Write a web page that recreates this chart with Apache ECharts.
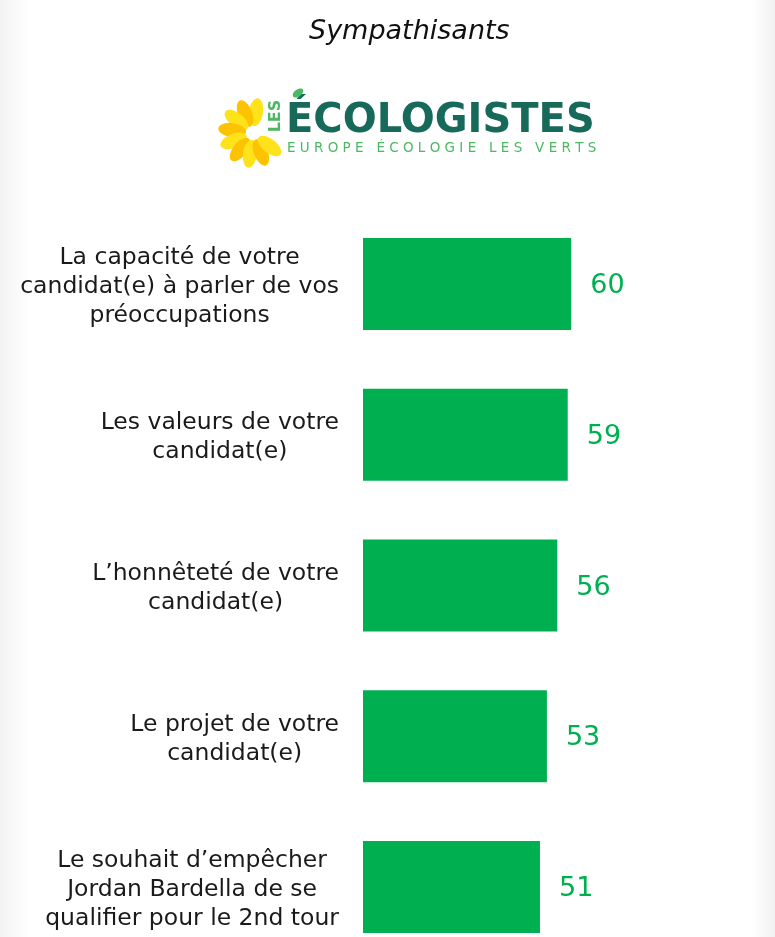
<!DOCTYPE html>
<html>
<head>
<meta charset="utf-8">
<script src="https://cdn.jsdelivr.net/npm/echarts@6/dist/echarts.min.js"></script>
<style>
  html, body { margin: 0; padding: 0; background: #fff; }
  #chart { width: 775px; height: 937px; }
</style>
</head>
<body>
<div id="chart"></div>
<script>
const title = "Sympathisants";
const categories = [
    "La capacité de votre\ncandidat(e) à parler de vos\npréoccupations",
    "Les valeurs de votre\ncandidat(e)",
    "L’honnêteté de votre\ncandidat(e)",
    "Le projet de votre\ncandidat(e)",
    "Le souhait d’empêcher\nJordan Bardella de se\nqualifier pour le 2nd tour"
];
const values = [60, 59, 56, 53, 51];

const GREEN = "#00b050";
const FONT = "'DejaVu Sans', sans-serif";

// sunflower petals for the logo (decoration, not data)
function sunflower(cx, cy) {
    const petals = [];
    const angles = [82, 112, 142, 172, 202, 232, 262, 292, 322];
    angles.forEach((a, i) => {
        petals.push({
            type: "ellipse",
            x: cx,
            y: cy,
            rotation: a * Math.PI / 180,
            shape: { cx: 21, cy: 0, rx: 14, ry: 7 },
            style: { fill: i % 2 ? "#fdc300" : "#ffe31a" }
        });
    });
    return petals;
}

const chart = echarts.init(document.getElementById("chart"), null, { renderer: "canvas" });

chart.setOption({
    animation: false,
    backgroundColor: "#ffffff",
    title: {
        text: title,
        left: 304,
        top: 13,
        textStyle: {
            fontFamily: FONT,
            fontStyle: "italic",
            fontWeight: "normal",
            fontSize: 27,
            color: "#111"
        }
    },
    graphic: [
        {
            type: "rect",
            left: 0, top: 0,
            shape: { width: 30, height: 937 },
            style: {
                fill: new echarts.graphic.LinearGradient(0, 0, 1, 0, [
                    { offset: 0, color: "#f3f3f3" },
                    { offset: 1, color: "#ffffff" }
                ])
            },
            z: -1
        },
        {
            type: "rect",
            left: 752, top: 0,
            shape: { width: 23, height: 937 },
            style: {
                fill: new echarts.graphic.LinearGradient(0, 0, 1, 0, [
                    { offset: 0, color: "#ffffff" },
                    { offset: 1, color: "#f1f1f1" }
                ])
            },
            z: -1
        },
        ...sunflower(253, 133),
        {
            type: "text",
            x: 276, y: 116,
            rotation: Math.PI / 2,
            style: {
                text: "LES",
                font: "bold 16px " + FONT,
                fill: "#4cb864",
                align: "center",
                verticalAlign: "middle"
            }
        },
        {
            type: "text",
            x: 286, y: 122,
            style: {
                text: "ÉCOLOGISTES",
                font: "bold 40px " + FONT,
                fill: "#17695a",
                verticalAlign: "middle"
            }
        },
        {
            type: "ellipse",
            x: 298, y: 93,
            rotation: 0.6,
            shape: { cx: 0, cy: 0, rx: 6, ry: 3.5 },
            style: { fill: "#4cb864" }
        },
        {
            type: "text",
            x: 287, y: 148,
            style: {
                text: "E U R O P E   É C O L O G I E   L E S   V E R T S",
                font: "13.5px " + FONT,
                fill: "#4cb864",
                verticalAlign: "middle"
            }
        }
    ],
    grid: {
        left: 363,
        top: 284,
        width: 347,
        height: 603,
        containLabel: false
    },
    xAxis: {
        type: "value",
        min: 0,
        max: 100,
        show: false
    },
    yAxis: {
        type: "category",
        inverse: true,
        boundaryGap: false,
        data: categories,
        axisLine: { show: false },
        axisTick: { show: false },
        axisLabel: {
            margin: 24,
            align: "right",
            padding: [6, 0, 0, 0],
            formatter: value => value.split("\n").map(l => "{c|" + l + "}").join("\n"),
            rich: {
                c: {
                    align: "center",
                    fontFamily: FONT,
                    fontSize: 23.5,
                    lineHeight: 29,
                    color: "#1a1a1a"
                }
            }
        }
    },
    series: [
        {
            type: "bar",
            data: values,
            barWidth: 92,
            itemStyle: { color: GREEN },
            label: {
                show: true,
                position: "right",
                distance: 19,
                offset: [0, 2],
                fontFamily: FONT,
                fontSize: 27,
                color: GREEN
            }
        }
    ]
});
</script>
</body>
</html>
